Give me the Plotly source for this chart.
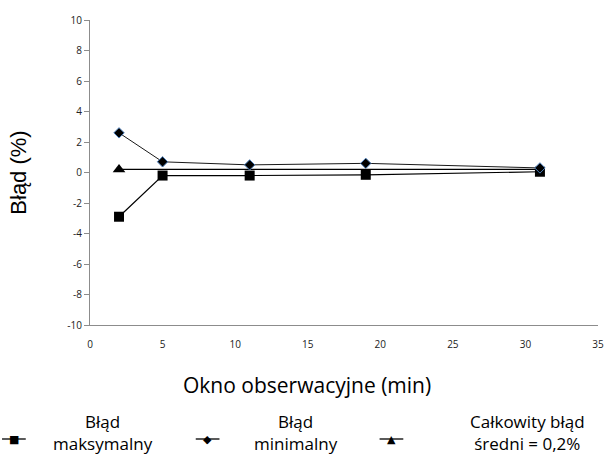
import plotly.graph_objects as go

# Observation window length (minutes)
window_min = [2, 5, 11, 19, 31]
# Error bounds (%) for each window
max_error = [-2.9, -0.2, -0.2, -0.15, 0.05]
min_error = [2.6, 0.7, 0.5, 0.6, 0.3]
# Overall mean error (%) drawn as a reference line
mean_x = [2, 31]
mean_error = [0.2, 0.2]

y_ticks = list(range(-10, 11, 2))
x_ticks = list(range(0, 36, 5))

legend_names = ["Błąd<br>maksymalny", "Błąd<br>minimalny", "Całkowity błąd<br>średni = 0,2%"]
legend_glyphs = ["■", "◆", "▲"]

AXIS_GREY = "#8c8c8c"
TICK_FONT = dict(family="Open Sans", size=10, color="#222222")
TEXT_FONT = "Open Sans"

fig = go.Figure()

fig.add_trace(go.Scatter(
    x=mean_x, y=mean_error, mode="lines", name=legend_names[2],
    line=dict(color="black", width=1.3),
))
fig.add_trace(go.Scatter(
    x=mean_x[:1], y=mean_error[:1], mode="markers", name=legend_names[2],
    marker=dict(symbol="triangle-up", size=11, color="black"),
))
fig.add_trace(go.Scatter(
    x=window_min, y=max_error, mode="lines+markers", name=legend_names[0],
    line=dict(color="black", width=1.2),
    marker=dict(symbol="square", size=10, color="black"),
))
fig.add_trace(go.Scatter(
    x=window_min, y=min_error, mode="lines+markers", name=legend_names[1],
    line=dict(color="#1a1a1a", width=1),
    marker=dict(symbol="diamond", size=8, color="black",
                line=dict(color="#4f81bd", width=1)),
))

# Plot area: 90..604 px wide, 20..325 px tall
PW, PH = 514.0, 305.0


def px_x(px):
    return (px - 90) / PW


def px_y(py):
    return (325 - py) / PH


annotations = []
shapes = []
# Custom legend below the chart: key symbol + centred two-line label
legend_items = [(13, 103), (209, 298), (395, 533)]
for (sym_x, text_x), name, glyph in zip(legend_items, legend_names, legend_glyphs):
    shapes.append(dict(type="line", xref="paper", yref="paper",
                       x0=px_x(sym_x - 12), x1=px_x(sym_x + 12),
                       y0=px_y(439), y1=px_y(439),
                       line=dict(color="black", width=1.3)))
    annotations.append(dict(text=glyph, xref="paper", yref="paper",
                            x=px_x(sym_x), y=px_y(439), showarrow=False,
                            xanchor="center", yanchor="middle",
                            font=dict(family="DejaVu Sans", size=11, color="black")))
    annotations.append(dict(text=name, xref="paper", yref="paper",
                            x=px_x(text_x), y=px_y(432), showarrow=False,
                            xanchor="center", yanchor="middle", align="center",
                            font=dict(family=TEXT_FONT, size=17, color="black")))

# X axis title
annotations.append(dict(text="Okno obserwacyjne (min)", xref="paper", yref="paper",
                        x=px_x(310), y=px_y(385), showarrow=False,
                        xanchor="center", yanchor="middle",
                        font=dict(family=TEXT_FONT, size=21, color="black")))

fig.update_layout(
    width=612, height=455,
    margin=dict(l=90, r=8, t=20, b=130),
    paper_bgcolor="white", plot_bgcolor="white",
    showlegend=False,
    annotations=annotations,
    shapes=shapes,
    xaxis=dict(
        range=[0, 35], tickvals=x_ticks, ticktext=[str(v) for v in x_ticks],
        showline=True, linecolor=AXIS_GREY, linewidth=1,
        showgrid=False, zeroline=False, ticks="",
        tickfont=TICK_FONT, ticklabelstandoff=10,
    ),
    yaxis=dict(
        range=[-10, 10], tickvals=y_ticks, ticktext=[str(v) for v in y_ticks],
        showline=True, linecolor=AXIS_GREY, linewidth=1,
        showgrid=False, zeroline=False,
        ticks="outside", ticklen=5, tickcolor=AXIS_GREY,
        tickfont=TICK_FONT,
        title=dict(text="Błąd (%)",
                   font=dict(family="Liberation Sans", size=22, color="black"),
                   standoff=34),
    ),
)

fig.write_html("out.html")
